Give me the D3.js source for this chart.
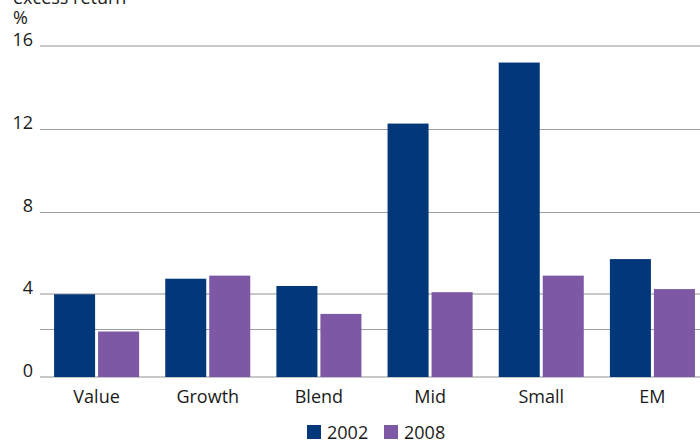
<!DOCTYPE html>
<html>
<head>
<meta charset="utf-8">
<script src="https://cdn.jsdelivr.net/npm/d3@7"></script>
<style>
  html, body { margin: 0; padding: 0; background: #fff; }
  svg { display: block; font-family: "Open Sans", "Noto Sans", sans-serif; }
</style>
</head>
<body>
<svg id="chart" width="700" height="440"></svg>
<script>
// Excess return by style, 2002 vs 2008
const categories = ["Value", "Growth", "Blend", "Mid", "Small", "EM"];
const seriesNames = ["2002", "2008"];
const values2002 = [4.0, 4.75, 4.4, 12.25, 15.2, 5.7];
const values2008 = [2.2, 4.9, 3.05, 4.1, 4.9, 4.25];
const tickValues = [0, 4, 8, 12, 16];
const majorLines = [0, 4, 16];
const minorLines = [2.3, 8, 12];
const colors = ["#02387a", "#7f58a5"];

const svg = d3.select("#chart");
const W = 700;

const y = d3.scaleLinear().domain([0, 16]).range([377, 46]);
const x = d3.scaleBand().domain(categories).range([41, 708])
  .paddingInner(0.235).paddingOuter(0.1175);
const xs = d3.scaleBand().domain(seriesNames).range([0, x.bandwidth()])
  .paddingInner(0.068);
const color = d3.scaleOrdinal().domain(seriesNames).range(colors);

// grid lines
svg.append("g").selectAll("line").data(minorLines).join("line")
  .attr("x1", 40).attr("x2", W)
  .attr("y1", d => Math.round(y(d)) + 0.5).attr("y2", d => Math.round(y(d)) + 0.5)
  .attr("stroke", "#9d9d9d").attr("stroke-width", 1);
svg.append("g").selectAll("line").data(majorLines).join("line")
  .attr("x1", 40).attr("x2", W)
  .attr("y1", d => Math.round(y(d))).attr("y2", d => Math.round(y(d)))
  .attr("stroke", "#c8c8c8").attr("stroke-width", 2);

// y tick labels, baseline on the grid line
svg.append("g").selectAll("text").data(tickValues).join("text")
  .attr("x", 33).attr("y", d => y(d))
  .attr("text-anchor", "end")
  .attr("font-size", 18).attr("fill", "#1a1a1a")
  .text(d => d);

// axis title
svg.append("text").attr("x", 13).attr("y", 4)
  .attr("font-size", 18).attr("fill", "#1a1a1a").text("excess return");
svg.append("text").attr("x", 13).attr("y", 24)
  .attr("font-size", 18).attr("fill", "#1a1a1a").text("%");

// bars
const rows = categories.map((c, i) => ({ cat: c, vals: [values2002[i], values2008[i]] }));
const groups = svg.append("g").selectAll("g").data(rows).join("g")
  .attr("transform", d => `translate(${x(d.cat)},0)`);
groups.selectAll("rect")
  .data(d => d.vals.map((v, j) => ({ key: seriesNames[j], v })))
  .join("rect")
  .attr("x", d => xs(d.key))
  .attr("width", xs.bandwidth())
  .attr("y", d => y(d.v))
  .attr("height", d => y(0) - y(d.v))
  .attr("fill", d => color(d.key));

// category labels
svg.append("g").selectAll("text").data(categories).join("text")
  .attr("x", d => x(d) + x.bandwidth() / 2).attr("y", 403)
  .attr("text-anchor", "middle")
  .attr("font-size", 18).attr("fill", "#1a1a1a")
  .text(d => d);

// legend
const legend = svg.append("g");
const legendX = [307, 384];
seriesNames.forEach((s, i) => {
  legend.append("rect").attr("x", legendX[i]).attr("y", 425)
    .attr("width", 14).attr("height", 14).attr("fill", color(s));
  legend.append("text").attr("x", legendX[i] + 20).attr("y", 439)
    .attr("font-size", 18).attr("fill", "#1a1a1a").text(s);
});
</script>
</body>
</html>
